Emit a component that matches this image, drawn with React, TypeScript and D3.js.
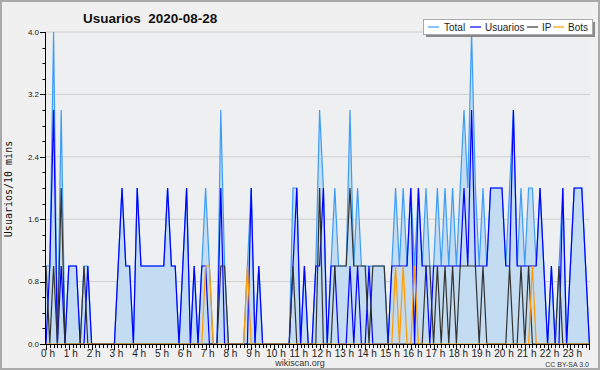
import React from 'react';
import * as d3 from 'd3';

// 10-minute slots, 0:00 .. 23:50 (144 values)
const usuarios = [
  0,1,3,0,1,0,1,1,1,0, 0,1,0,0,0,0,0,0,0,1, 2,1,1,0,2,1,1,1,1,1,
  1,1,2,1,1,0,1,2,0,1, 0,1,1,0,0,0,2,0,0,0, 0,0,0,0,2,0,1,0,0,0,
  0,0,0,0,0,1,2,0,1,0, 0,1,1,2,0,1,1,0,0,0, 1,0,1,0,0,1,0,0,0,0,
  0,1,1,1,1,1,2,0,2,1, 1,0,1,1,1,1,1,1,1,1, 2,1,3,1,1,1,1,2,2,2,
  2,1,1,3,1,1,1,1,1,1, 2,1,0,1,0,0,2,0,1,2, 2,2,1,0,
];
const ip = [
  1,0,1,0,2,0,0,0,0,0, 1,0,0,0,0,0,0,0,0,0, 0,0,0,0,0,0,0,0,0,0,
  0,0,0,0,0,0,0,0,0,0, 0,0,0,0,0,0,1,1,0,0, 0,0,0,0,0,0,0,0,0,0,
  0,0,0,0,0,1,0,0,0,0, 0,0,2,0,0,0,1,1,1,1, 2,1,1,1,1,0,1,1,1,1,
  0,0,0,0,0,0,0,0,0,0, 1,1,0,1,0,1,0,1,0,1, 1,1,1,1,0,1,0,0,0,0,
  0,0,1,0,0,1,0,1,0,0, 0,0,0,0,0,1,0,0,0,0, 0,0,0,0,
];
const bots = [
  0,0,0,0,0,0,0,0,0,0, 0,0,0,0,0,0,0,0,0,0, 0,0,0,0,0,0,0,0,0,0,
  0,0,0,0,0,0,0,0,0,0, 0,0,1,1,0,0,0,0,0,0, 0,0,0,1,0,0,0,0,0,0,
  0,0,0,0,0,0,0,0,0,0, 0,0,0,0,0,0,0,0,0,0, 0,0,0,0,0,0,0,0,0,0,
  0,0,1,0,1,0,0,1,0,0, 0,0,0,0,0,0,0,0,0,0, 0,0,0,0,0,0,0,0,0,0,
  0,0,0,0,0,0,0,0,1,0, 0,0,0,0,0,0,0,0,0,0, 0,0,0,0,
];
const total = [
  1,1,4,0,3,0,1,1,1,0, 1,1,0,0,0,0,0,0,0,1, 2,1,1,0,2,1,1,1,1,1,
  1,1,2,1,1,0,1,2,0,1, 0,1,2,1,0,0,3,1,0,0, 0,0,0,1,2,0,1,0,0,0,
  0,0,0,0,0,2,2,0,1,0, 0,1,3,2,0,1,2,1,1,1, 3,1,2,1,1,1,1,1,1,1,
  0,1,2,1,2,1,2,1,2,1, 2,1,1,2,1,2,1,2,1,2, 3,2,4,2,1,2,1,2,2,2,
  2,1,2,3,1,2,1,2,2,1, 2,1,0,1,0,1,2,0,1,2, 2,2,1,0,
];
const hourLabels = [
  '0 h','1 h','2 h','3 h','4 h','5 h','6 h','7 h','8 h','9 h','10 h','11 h',
  '12 h','13 h','14 h','15 h','16 h','17 h','18 h','19 h','20 h','21 h','22 h','23 h',
];
const yTickValues = [0, 0.8, 1.6, 2.4, 3.2, 4.0];
const legendNames = ['Total', 'Usuarios', 'IP', 'Bots'];

const COLORS = { total: '#3d9cf5', usuarios: '#0000ff', ip: '#333333', bots: '#ff9900' };

export default function App() {
  const W = 600, H = 370;
  const x = d3.scaleLinear().domain([0, 143]).range([46, 589.4]);
  const y = d3.scaleLinear().domain([0, 4]).range([344, 32]);
  const idx = d3.range(total.length);

  const line = (arr: number[]) =>
    d3.line<number>().x((i) => x(i)).y((i) => y(arr[i]))(idx) as string;
  const area = d3.area<number>().x((i) => x(i)).y0(y(0)).y1((i) => y(total[i]))(idx) as string;

  const minorY = d3.range(0, 4.001, 0.2);
  const minorX = d3.range(0, 144);
  const font = 'Liberation Sans, Arial, sans-serif';

  const legendItems = [
    { name: legendNames[0], color: COLORS.total, lx: 428, tx: 444 },
    { name: legendNames[1], color: COLORS.usuarios, lx: 470, tx: 485 },
    { name: legendNames[2], color: COLORS.ip, lx: 527, tx: 542 },
    { name: legendNames[3], color: COLORS.bots, lx: 553, tx: 568 },
  ];

  return (
    <svg width={W} height={H} style={{ position: 'absolute', left: 0, top: 0 }} fontFamily={font}>
      <rect x={0} y={0} width={W} height={H} fill="#f0f0f0" />
      <rect x={1} y={1} width={W - 2} height={H - 2} fill="none" stroke="#aaaaaa" strokeWidth={2} />
      <rect x={46} y={32} width={544} height={312} fill="#eeeff1" />

      {/* grid */}
      {yTickValues.slice(1).map((v) => (
        <line key={'g' + v} x1={46} x2={590} y1={y(v)} y2={y(v)} stroke="#cfcfcf" strokeWidth={1} />
      ))}

      {/* area + lines */}
      <path d={area} fill="#c3dcf1" />
      <path d={line(total)} fill="none" stroke={COLORS.total} strokeWidth={1.2} />
      <path d={line(usuarios)} fill="none" stroke={COLORS.usuarios} strokeWidth={1.2} />
      <path d={line(ip)} fill="none" stroke={COLORS.ip} strokeWidth={1.2} />
      <path d={line(bots)} fill="none" stroke={COLORS.bots} strokeWidth={1.2} />

      {/* y axis */}
      <line x1={45.5} x2={45.5} y1={32} y2={345} stroke="#000" strokeWidth={1} />
      {minorY.map((v, k) => (
        <line key={'ym' + k} x1={k % 4 === 0 ? 40 : 42.5} x2={45.5}
          y1={Math.round(y(v)) + 0.5} y2={Math.round(y(v)) + 0.5} stroke="#000" strokeWidth={1} />
      ))}
      {yTickValues.map((v) => (
        <text key={'yl' + v} x={39} y={y(v)} dy="0.35em" textAnchor="end" fontSize={8} fill="#222">
          {v.toFixed(1)}
        </text>
      ))}
      <text transform="translate(12,189) rotate(-90)" textAnchor="middle" fontSize={10}
        fontFamily="DejaVu Sans Mono, monospace" fill="#111">Usuarios/10 mins</text>

      {/* x axis */}
      <line x1={45} x2={590} y1={344.5} y2={344.5} stroke="#000" strokeWidth={1} />
      {minorX.map((i) => (
        <line key={'xm' + i} x1={Math.round(x(i)) + 0.5} x2={Math.round(x(i)) + 0.5}
          y1={344.5} y2={i % 6 === 0 ? 350 : 348} stroke="#000" strokeWidth={1} />
      ))}
      <line x1={589.5} x2={589.5} y1={344.5} y2={350} stroke="#000" strokeWidth={1} />
      {hourLabels.map((lab, h) => (
        <text key={'xl' + h} x={x(h * 6) + 2} y={357} textAnchor="middle" fontSize={10} fill="#222">
          {lab}
        </text>
      ))}
      <text x={300} y={366} textAnchor="middle" fontSize={9} fill="#333">wikiscan.org</text>
      <text x={589} y={367} textAnchor="end" fontSize={7} fill="#333">CC BY-SA 3.0</text>

      {/* title */}
      <text x={83} y={23} fontSize={13.5} fontWeight="bold" fill="#111">Usuarios{'\u00a0\u00a0'}2020-08-28</text>

      {/* legend */}
      <rect x={426} y={22} width={169} height={15} fill="#888" />
      <rect x={423.5} y={19.5} width={169} height={15} fill="#fff" stroke="#aaa" strokeWidth={1} />
      {legendItems.map((it) => (
        <g key={it.name}>
          <line x1={it.lx} x2={it.lx + 11} y1={27} y2={27} stroke={it.color} strokeWidth={1.2} />
          <text x={it.tx} y={30.5} fontSize={10} fill="#222">{it.name}</text>
        </g>
      ))}
    </svg>
  );
}
